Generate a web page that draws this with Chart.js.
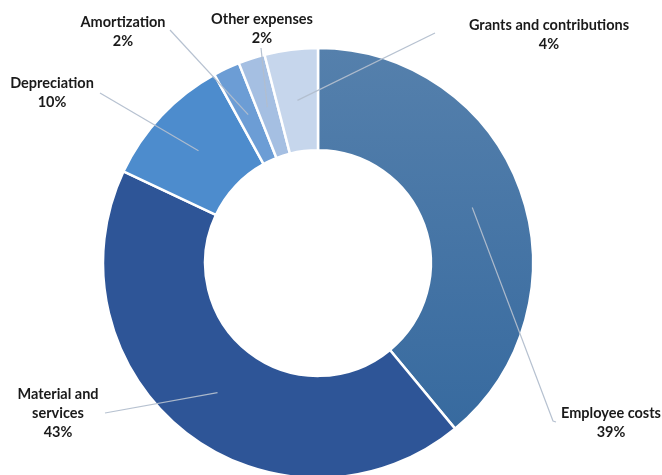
<!DOCTYPE html>
<html>
<head>
<meta charset="utf-8">
<script src="https://cdn.jsdelivr.net/npm/chart.js@4"></script>
<style>
  html, body { margin: 0; padding: 0; background: #fff; }
  #wrap { width: 662px; height: 475px; position: relative; }
</style>
</head>
<body>
<div id="wrap"><canvas id="expenses-chart"></canvas></div>
<script>
// expense categories, clockwise from 12 o'clock
let categories = ['Employee costs', 'Material and services', 'Depreciation', 'Amortization', 'Other expenses', 'Grants and contributions'];
let shares = [39, 43, 10, 2, 2, 4]; // percent
let slice_colors = ['#4673a5', '#2e5597', '#4d8ccd', '#6c9dd5', '#a5bfe2', '#c6d6ec'];

// where each label sits (text centre) and where its leader line stops
let label_layout = [
    { x: 611, y: 413, lx: 553, ly: 421, hook: 3, wrap: 200 },
    { x: 58, y: 394, lx: 105, ly: 413, hook: 0, wrap: 90 },
    { x: 52, y: 83, lx: 100, ly: 93, hook: 0, wrap: 200 },
    { x: 123, y: 22, lx: 170, ly: 30, hook: 0, wrap: 200 },
    { x: 262, y: 19, lx: 261, ly: 48, hook: 0, wrap: 200 },
    { x: 549, y: 25, lx: 435, ly: 33, hook: 0, wrap: 300 }
];

function wrap_words(ctx, text, max_w) {
    let words = text.split(' ');
    let lines = [];
    let cur = '';
    for (let w of words) {
        let t = cur ? cur + ' ' + w : w;
        if (cur && ctx.measureText(t).width > max_w) {
            lines.push(cur);
            cur = w;
        } else {
            cur = t;
        }
    }
    if (cur) lines.push(cur);
    return lines;
}

// leader lines + category/percent labels
const leader_labels = {
    id: 'leader_labels',
    afterDatasetsDraw(chart) {
        let ctx = chart.ctx;
        let arcs = chart.getDatasetMeta(0).data;
        ctx.save();
        ctx.strokeStyle = 'rgba(178, 190, 206, 0.95)';
        ctx.lineWidth = 1.2;
        arcs.forEach((arc, i) => {
            let p = arc.tooltipPosition();
            let lay = label_layout[i];
            ctx.beginPath();
            ctx.moveTo(p.x, p.y);
            ctx.lineTo(lay.lx, lay.ly);
            if (lay.hook) ctx.lineTo(lay.lx + lay.hook, lay.ly + 1);
            ctx.stroke();
        });
        ctx.font = 'bold 14.5px Lato, "Open Sans", sans-serif';
        ctx.fillStyle = '#1a1a1a';
        ctx.textAlign = 'center';
        ctx.textBaseline = 'middle';
        arcs.forEach((arc, i) => {
            let lay = label_layout[i];
            let lines = wrap_words(ctx, categories[i], lay.wrap);
            lines.push(shares[i] + '%');
            lines.forEach((ln, k) => ctx.fillText(ln, lay.x, lay.y + k * 19));
        });
        ctx.restore();
    }
};

let canvas = document.getElementById('expenses-chart');
let chart = new Chart(canvas, {
    type: 'doughnut',
    data: {
        labels: categories,
        datasets: [{
            data: shares,
            backgroundColor: (c) => {
                let area = c.chart.chartArea;
                if (c.dataIndex !== 0 || !area) return slice_colors[c.dataIndex];
                // employee slice fades slightly darker toward the bottom
                let g = c.chart.ctx.createLinearGradient(0, 48, 0, 430);
                g.addColorStop(0, '#5580ac');
                g.addColorStop(1, '#376a9f');
                return g;
            },
            borderColor: '#ffffff',
            borderWidth: 2.5,
            radius: 215,
            cutout: '52.5%'
        }]
    },
    options: {
        responsive: true,
        maintainAspectRatio: false,
        animation: false,
        layout: { padding: { left: 0, right: 26, top: 51, bottom: 0 } },
        plugins: {
            legend: { display: false },
            tooltip: { enabled: false }
        }
    },
    plugins: [leader_labels]
});
</script>
</body>
</html>
